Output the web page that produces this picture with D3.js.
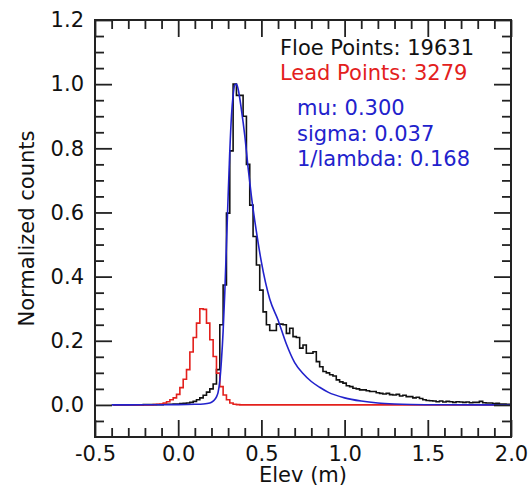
<!DOCTYPE html>
<html>
<head>
<meta charset="utf-8">
<script src="https://cdn.jsdelivr.net/npm/d3@7"></script>
<style>
  body { margin: 0; background: #fff; }
  text { font-family: "DejaVu Sans", sans-serif; }
</style>
</head>
<body>
<svg id="chart"></svg>
<script>
// histogram bins: 0.02 wide, centres from -0.38 to 2.00
var binWidth = 0.02;
var binCentres = d3.range(120).map(function(i) { return +(-0.38 + i * binWidth).toFixed(2); });

// floe elevations (black)
var floeCounts = [
  0, 0, 0, 0, 0, 0, 0, 0, 0,
  0.001, 0.001, 0.001, 0.001, 0.001,
  0.001, 0.002, 0.002, 0.002, 0.003, 0.003, 0.004, 0.005, 0.006, 0.008,
  0.011, 0.016, 0.022, 0.030, 0.040,
  0.050, 0.065, 0.110, 0.250, 0.374, 0.598, 0.792, 1.000, 0.965, 0.965,
  0.900, 0.750, 0.623, 0.525, 0.436, 0.358, 0.290, 0.250, 0.232, 0.232,
  0.252, 0.252, 0.250, 0.223, 0.239, 0.213, 0.210, 0.177, 0.187, 0.161,
  0.161, 0.166, 0.135, 0.119, 0.104, 0.100, 0.094, 0.090, 0.078, 0.072,
  0.068, 0.060, 0.057, 0.052, 0.050, 0.047, 0.047, 0.044, 0.042, 0.042,
  0.038, 0.036, 0.034, 0.036, 0.032, 0.031, 0.033, 0.028, 0.030, 0.026,
  0.026, 0.022, 0.024, 0.020, 0.016, 0.014, 0.013, 0.012, 0.010, 0.012,
  0.009, 0.011, 0.010, 0.008, 0.010, 0.009, 0.008, 0.009, 0.007, 0.008,
  0.008, 0.011, 0.007, 0.006, 0.006, 0.004, 0.005, 0.003, 0.003, 0.002,
  0.002
];

// lead elevations (red)
var leadCounts = [
  0, 0, 0, 0, 0, 0, 0, 0, 0, 0, 0, 0,
  0.001, 0.002, 0.003, 0.006, 0.010, 0.016, 0.022, 0.033, 0.054, 0.080,
  0.110, 0.165, 0.210, 0.255, 0.300, 0.298, 0.255, 0.203, 0.151, 0.099,
  0.057, 0.031, 0.016, 0.006, 0.002, 0.001,
  0, 0, 0, 0, 0, 0, 0, 0, 0, 0, 0, 0, 0, 0, 0, 0, 0, 0, 0, 0,
  0, 0, 0, 0, 0, 0, 0, 0, 0, 0, 0, 0, 0, 0, 0, 0, 0, 0, 0, 0,
  0, 0, 0, 0, 0, 0, 0, 0, 0, 0, 0, 0, 0, 0, 0, 0, 0, 0, 0, 0,
  0, 0, 0, 0, 0, 0, 0, 0, 0, 0, 0, 0, 0, 0, 0, 0, 0, 0, 0, 0,
  0, 0
];

// fitted curve (blue)
var fitX = [-0.40, -0.20, 0.00, 0.10, 0.15, 0.19, 0.21, 0.23, 0.24, 0.25, 0.26, 0.27,
            0.28, 0.29, 0.30, 0.31, 0.32, 0.33, 0.34, 0.35, 0.36, 0.38, 0.40, 0.42,
            0.44, 0.47, 0.50, 0.55, 0.60, 0.65, 0.70, 0.75, 0.80, 0.85, 0.90, 1.00,
            1.10, 1.20, 1.30, 1.40, 1.60, 2.00];
var fitY = [0, 0.0005, 0.001, 0.002, 0.003, 0.006, 0.012, 0.025, 0.040, 0.075, 0.140, 0.230,
            0.350, 0.500, 0.650, 0.790, 0.900, 0.965, 0.998, 1.000, 0.985, 0.920, 0.840, 0.740,
            0.650, 0.540, 0.445, 0.330, 0.265, 0.190, 0.132, 0.098, 0.073, 0.055, 0.040, 0.022,
            0.012, 0.006, 0.003, 0.0015, 0.0005, 0];

var xMajor = [-0.5, 0.0, 0.5, 1.0, 1.5, 2.0];
var yMajor = [0.0, 0.2, 0.4, 0.6, 0.8, 1.0, 1.2];

var notes = [
  {text: "Floe Points: 19631", color: "#111111"},
  {text: "Lead Points: 3279", color: "#e3201c"}
];
var fitNotes = ["mu: 0.300", "sigma: 0.037", "1/lambda: 0.168"];

var W = 530, H = 487;
var box = {left: 95, right: 511, top: 20, bottom: 437};

var svg = d3.select("#chart").attr("width", W).attr("height", H);

var x = d3.scaleLinear().domain([-0.5, 2.0]).range([box.left, box.right]);
var y = d3.scaleLinear().domain([-0.1, 1.2]).range([box.bottom, box.top]);

// labels use a plain hyphen, like the original
var fmt = function(d) { return d.toFixed(1); };

svg.append("clipPath").attr("id", "plotclip")
  .append("rect")
  .attr("x", box.left).attr("y", box.top)
  .attr("width", box.right - box.left).attr("height", box.bottom - box.top);

var plot = svg.append("g").attr("clip-path", "url(#plotclip)");

// step line through bin edges
function stepPoints(counts) {
  var pts = counts.map(function(v, i) { return [binCentres[i] - binWidth / 2, v]; });
  pts.push([binCentres[binCentres.length - 1] + binWidth / 2, counts[counts.length - 1]]);
  return pts;
}
var stepLine = d3.line()
  .x(function(d) { return x(d[0]); })
  .y(function(d) { return y(d[1]); })
  .curve(d3.curveStepAfter);

plot.append("path")
  .attr("d", stepLine(stepPoints(floeCounts)))
  .attr("fill", "none").attr("stroke", "#111").attr("stroke-width", 1.6);

plot.append("path")
  .attr("d", stepLine(stepPoints(leadCounts)))
  .attr("fill", "none").attr("stroke", "#e3201c").attr("stroke-width", 1.6);

var fitLine = d3.line()
  .x(function(d, i) { return x(fitX[i]); })
  .y(function(d) { return y(d); })
  .curve(d3.curveMonotoneX);

plot.append("path")
  .attr("d", fitLine(fitY))
  .attr("fill", "none").attr("stroke", "#2222cc").attr("stroke-width", 1.6);

// axes: ticks point inward on all four sides
var xMinor = d3.range(-0.4, 2.0, 0.1).filter(function(v) {
  return xMajor.every(function(m) { return Math.abs(m - v) > 1e-6; });
});
var yMinor = d3.range(-0.05, 1.2, 0.05).filter(function(v) {
  return yMajor.every(function(m) { return Math.abs(m - v) > 1e-6; });
});

function styleAxis(g) {
  g.select(".domain").remove();
  g.selectAll("line").attr("stroke", "#222").attr("stroke-width", 1.8);
  g.selectAll("text").attr("font-size", 21).attr("fill", "#111")
    .attr("font-family", "DejaVu Sans, sans-serif");
}

svg.append("g").attr("transform", "translate(0," + box.bottom + ")")
  .call(d3.axisBottom(x).tickValues(xMajor).tickSize(-17).tickPadding(9).tickFormat(fmt))
  .call(styleAxis);
svg.append("g").attr("transform", "translate(0," + box.bottom + ")")
  .call(d3.axisBottom(x).tickValues(xMinor).tickSize(-9).tickFormat(""))
  .call(styleAxis);
svg.append("g").attr("transform", "translate(0," + box.top + ")")
  .call(d3.axisTop(x).tickValues(xMajor).tickSize(-17).tickFormat(""))
  .call(styleAxis);
svg.append("g").attr("transform", "translate(0," + box.top + ")")
  .call(d3.axisTop(x).tickValues(xMinor).tickSize(-9).tickFormat(""))
  .call(styleAxis);

svg.append("g").attr("transform", "translate(" + box.left + ",0)")
  .call(d3.axisLeft(y).tickValues(yMajor).tickSize(-17).tickPadding(11).tickFormat(fmt))
  .call(styleAxis);
svg.append("g").attr("transform", "translate(" + box.left + ",0)")
  .call(d3.axisLeft(y).tickValues(yMinor).tickSize(-9).tickFormat(""))
  .call(styleAxis);
svg.append("g").attr("transform", "translate(" + box.right + ",0)")
  .call(d3.axisRight(y).tickValues(yMajor).tickSize(-17).tickFormat(""))
  .call(styleAxis);
svg.append("g").attr("transform", "translate(" + box.right + ",0)")
  .call(d3.axisRight(y).tickValues(yMinor).tickSize(-9).tickFormat(""))
  .call(styleAxis);

svg.append("rect")
  .attr("x", box.left).attr("y", box.top)
  .attr("width", box.right - box.left).attr("height", box.bottom - box.top)
  .attr("fill", "none").attr("stroke", "#222").attr("stroke-width", 2);

// axis titles
svg.append("text")
  .attr("x", (box.left + box.right) / 2).attr("y", 482)
  .attr("text-anchor", "middle").attr("font-size", 21).attr("fill", "#111")
  .text("Elev (m)");

svg.append("text")
  .attr("transform", "translate(34," + ((box.top + box.bottom) / 2) + ") rotate(-90)")
  .attr("text-anchor", "middle").attr("font-size", 21).attr("fill", "#111")
  .text("Normalized counts");

// annotations
svg.selectAll(".note").data(notes).enter().append("text")
  .attr("class", "note")
  .attr("x", 280).attr("y", function(d, i) { return 55 + i * 25; })
  .attr("font-size", 21).attr("fill", function(d) { return d.color; })
  .text(function(d) { return d.text; });

svg.selectAll(".fitnote").data(fitNotes).enter().append("text")
  .attr("class", "fitnote")
  .attr("x", 297).attr("y", function(d, i) { return 115 + i * 25.5; })
  .attr("font-size", 21).attr("fill", "#2222cc")
  .text(function(d) { return d; });
</script>
</body>
</html>
